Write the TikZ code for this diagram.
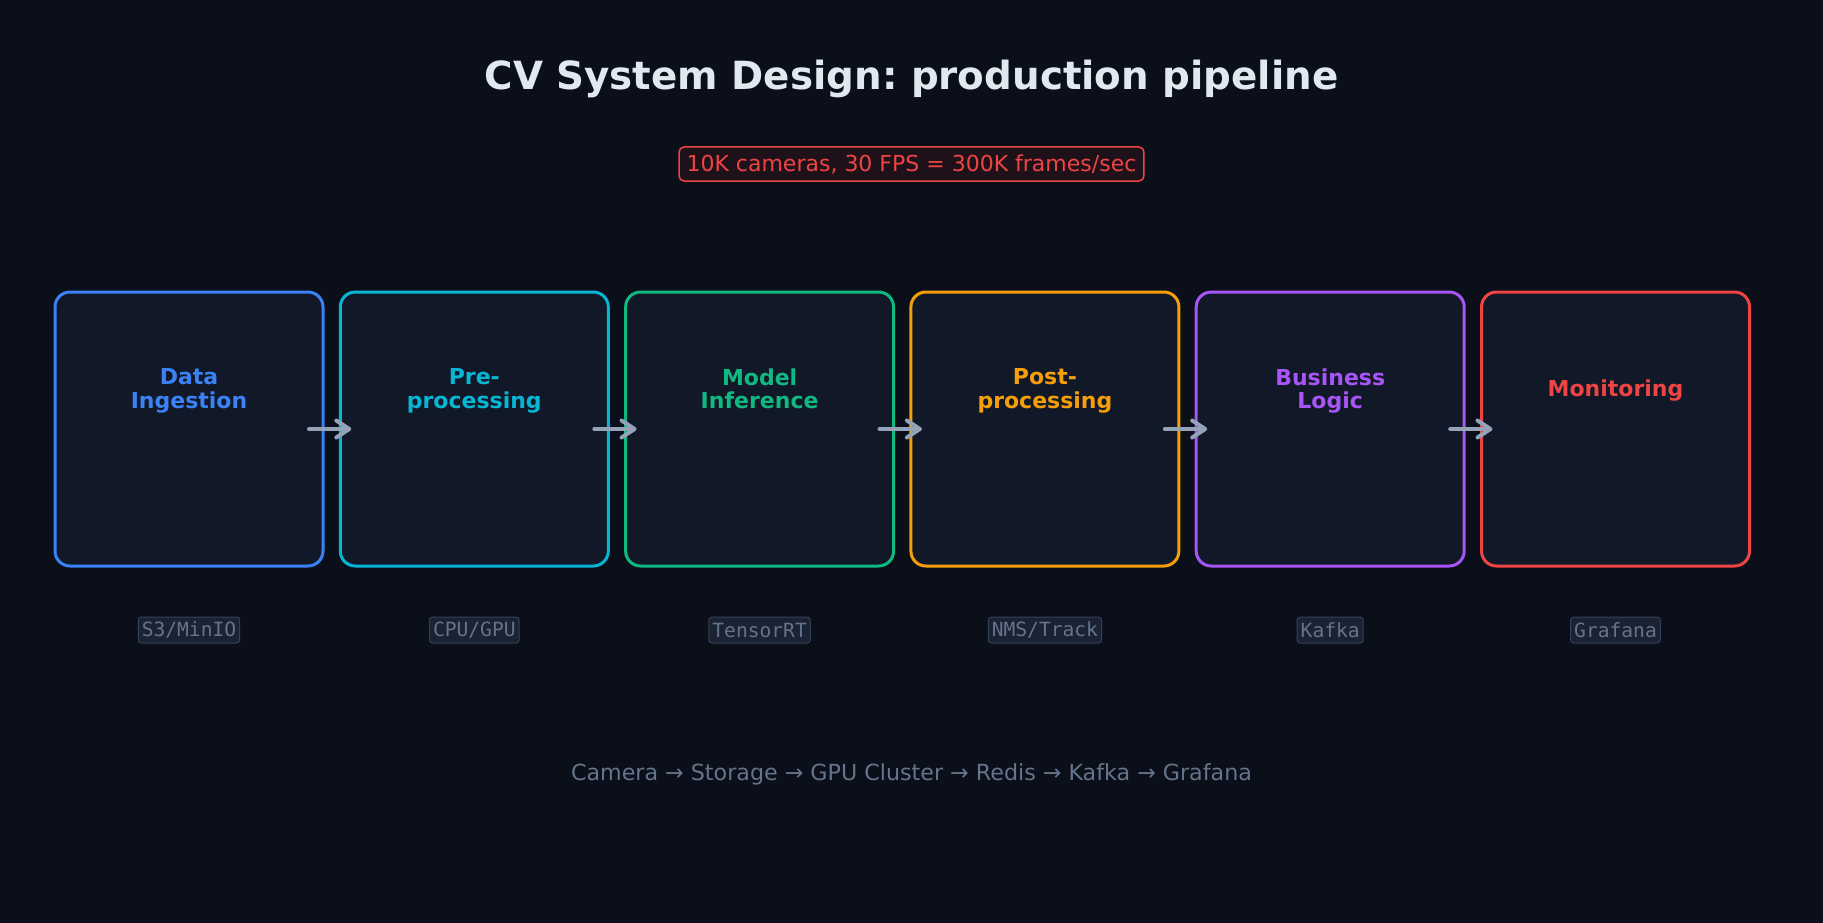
\documentclass[tikz,border=0pt]{standalone}
\usepackage{fontspec}
\setmainfont{DejaVu Sans}
\setmonofont{DejaVu Sans Mono}
\usepackage{xcolor}
\usetikzlibrary{arrows.meta, positioning}
\frenchspacing

\definecolor{bgdark}{HTML}{0B0F19}
\definecolor{boxfill}{HTML}{111827}
\definecolor{titlewhite}{HTML}{E2E8F0}
\definecolor{alertred}{HTML}{EF4444}
\definecolor{alertfill}{HTML}{1F1119}
\definecolor{tagfill}{HTML}{1A2233}
\definecolor{tagline}{HTML}{334155}
\definecolor{tagtext}{HTML}{64748B}
\definecolor{arrowgray}{HTML}{94A3B8}
\definecolor{cblue}{HTML}{3B82F6}
\definecolor{ccyan}{HTML}{06B6D4}
\definecolor{cgreen}{HTML}{10B981}
\definecolor{camber}{HTML}{F59E0B}
\definecolor{cpurple}{HTML}{A855F7}
\definecolor{cred}{HTML}{EF4444}

\begin{document}
\begin{tikzpicture}[node distance=285.3pt, x=1pt, y=1pt]
\tikzstyle{stage} = [rectangle, minimum width=268pt, minimum height=274pt, rounded corners=15pt, line width=3pt, fill=boxfill, outer sep=0pt]
\tikzstyle{stagetext} = [font=\fontsize{22}{23.5}\selectfont\bfseries, align=center, inner sep=0pt, execute at begin node=\strut, execute at end node=\strut]
\tikzstyle{tag} = [rectangle, rounded corners=3pt, draw=tagline, fill=tagfill, text=tagtext, font=\fontsize{19.6}{24}\selectfont\ttfamily, minimum height=26pt, inner xsep=3.5pt, inner ysep=0pt, line width=1pt]
\tikzstyle{arrow} = [line width=4pt, draw=arrowgray, line cap=round, -{Straight Barb[length=13pt,width=17pt,round]}]

\fill[bgdark] (0,0) rectangle (1823,-923);
\useasboundingbox (0,0) rectangle (1823,-923);

\node (title) at (911.5,-78.5) [text=titlewhite, font=\fontsize{38.8}{44}\selectfont\bfseries] {CV System Design: production pipeline};
\node (load) at (911.5,-164) [rectangle, rounded corners=5pt, draw=alertred, fill=alertfill, line width=1.5pt, text=alertred, font=\fontsize{22}{26}\selectfont, minimum height=34pt, inner xsep=7.5pt, inner ysep=0pt] {10K cameras, 30 FPS = 300K frames/sec};

\node (ingest) at (189,-429) [stage, draw=cblue] {};
\node (prep) [stage, draw=ccyan, right of=ingest] {};
\node (infer) [stage, draw=cgreen, right of=prep] {};
\node (post) [stage, draw=camber, right of=infer] {};
\node (logic) [stage, draw=cpurple, right of=post] {};
\node (monitor) [stage, draw=cred, right of=logic] {};

\node (ingestlbl) [stagetext, text=cblue, above of=ingest, node distance=37pt] {Data\\Ingestion};
\node (preplbl) [stagetext, text=ccyan, above of=prep, node distance=37pt] {Pre-\\processing};
\node (inferlbl) [stagetext, text=cgreen, above of=infer, node distance=37pt] {Model\\Inference};
\node (postlbl) [stagetext, text=camber, above of=post, node distance=37pt] {Post-\\processing};
\node (logiclbl) [stagetext, text=cpurple, above of=logic, node distance=37pt] {Business\\Logic};
\node (monitorlbl) [stagetext, text=cred, above of=monitor, node distance=37pt] {Monitoring};

\node (ingesttag) [tag, below of=ingest, node distance=201pt] {S3/MinIO};
\node (preptag) [tag, below of=prep, node distance=201pt] {CPU/GPU};
\node (infertag) [tag, below of=infer, node distance=201pt] {TensorRT};
\node (posttag) [tag, below of=post, node distance=201pt] {NMS/Track};
\node (logictag) [tag, below of=logic, node distance=201pt] {Kafka};
\node (monitortag) [tag, below of=monitor, node distance=201pt] {Grafana};

\draw [arrow] ([xshift=-14pt]ingest.east) -- ([xshift=11pt]prep.west);
\draw [arrow] ([xshift=-14pt]prep.east) -- ([xshift=11pt]infer.west);
\draw [arrow] ([xshift=-14pt]infer.east) -- ([xshift=11pt]post.west);
\draw [arrow] ([xshift=-14pt]post.east) -- ([xshift=11pt]logic.west);
\draw [arrow] ([xshift=-14pt]logic.east) -- ([xshift=11pt]monitor.west);

\node (stack) at (911.5,-774) [text=tagtext, font=\fontsize{22.2}{26}\selectfont] {Camera → Storage → GPU Cluster → Redis → Kafka → Grafana};
\end{tikzpicture}
\end{document}
